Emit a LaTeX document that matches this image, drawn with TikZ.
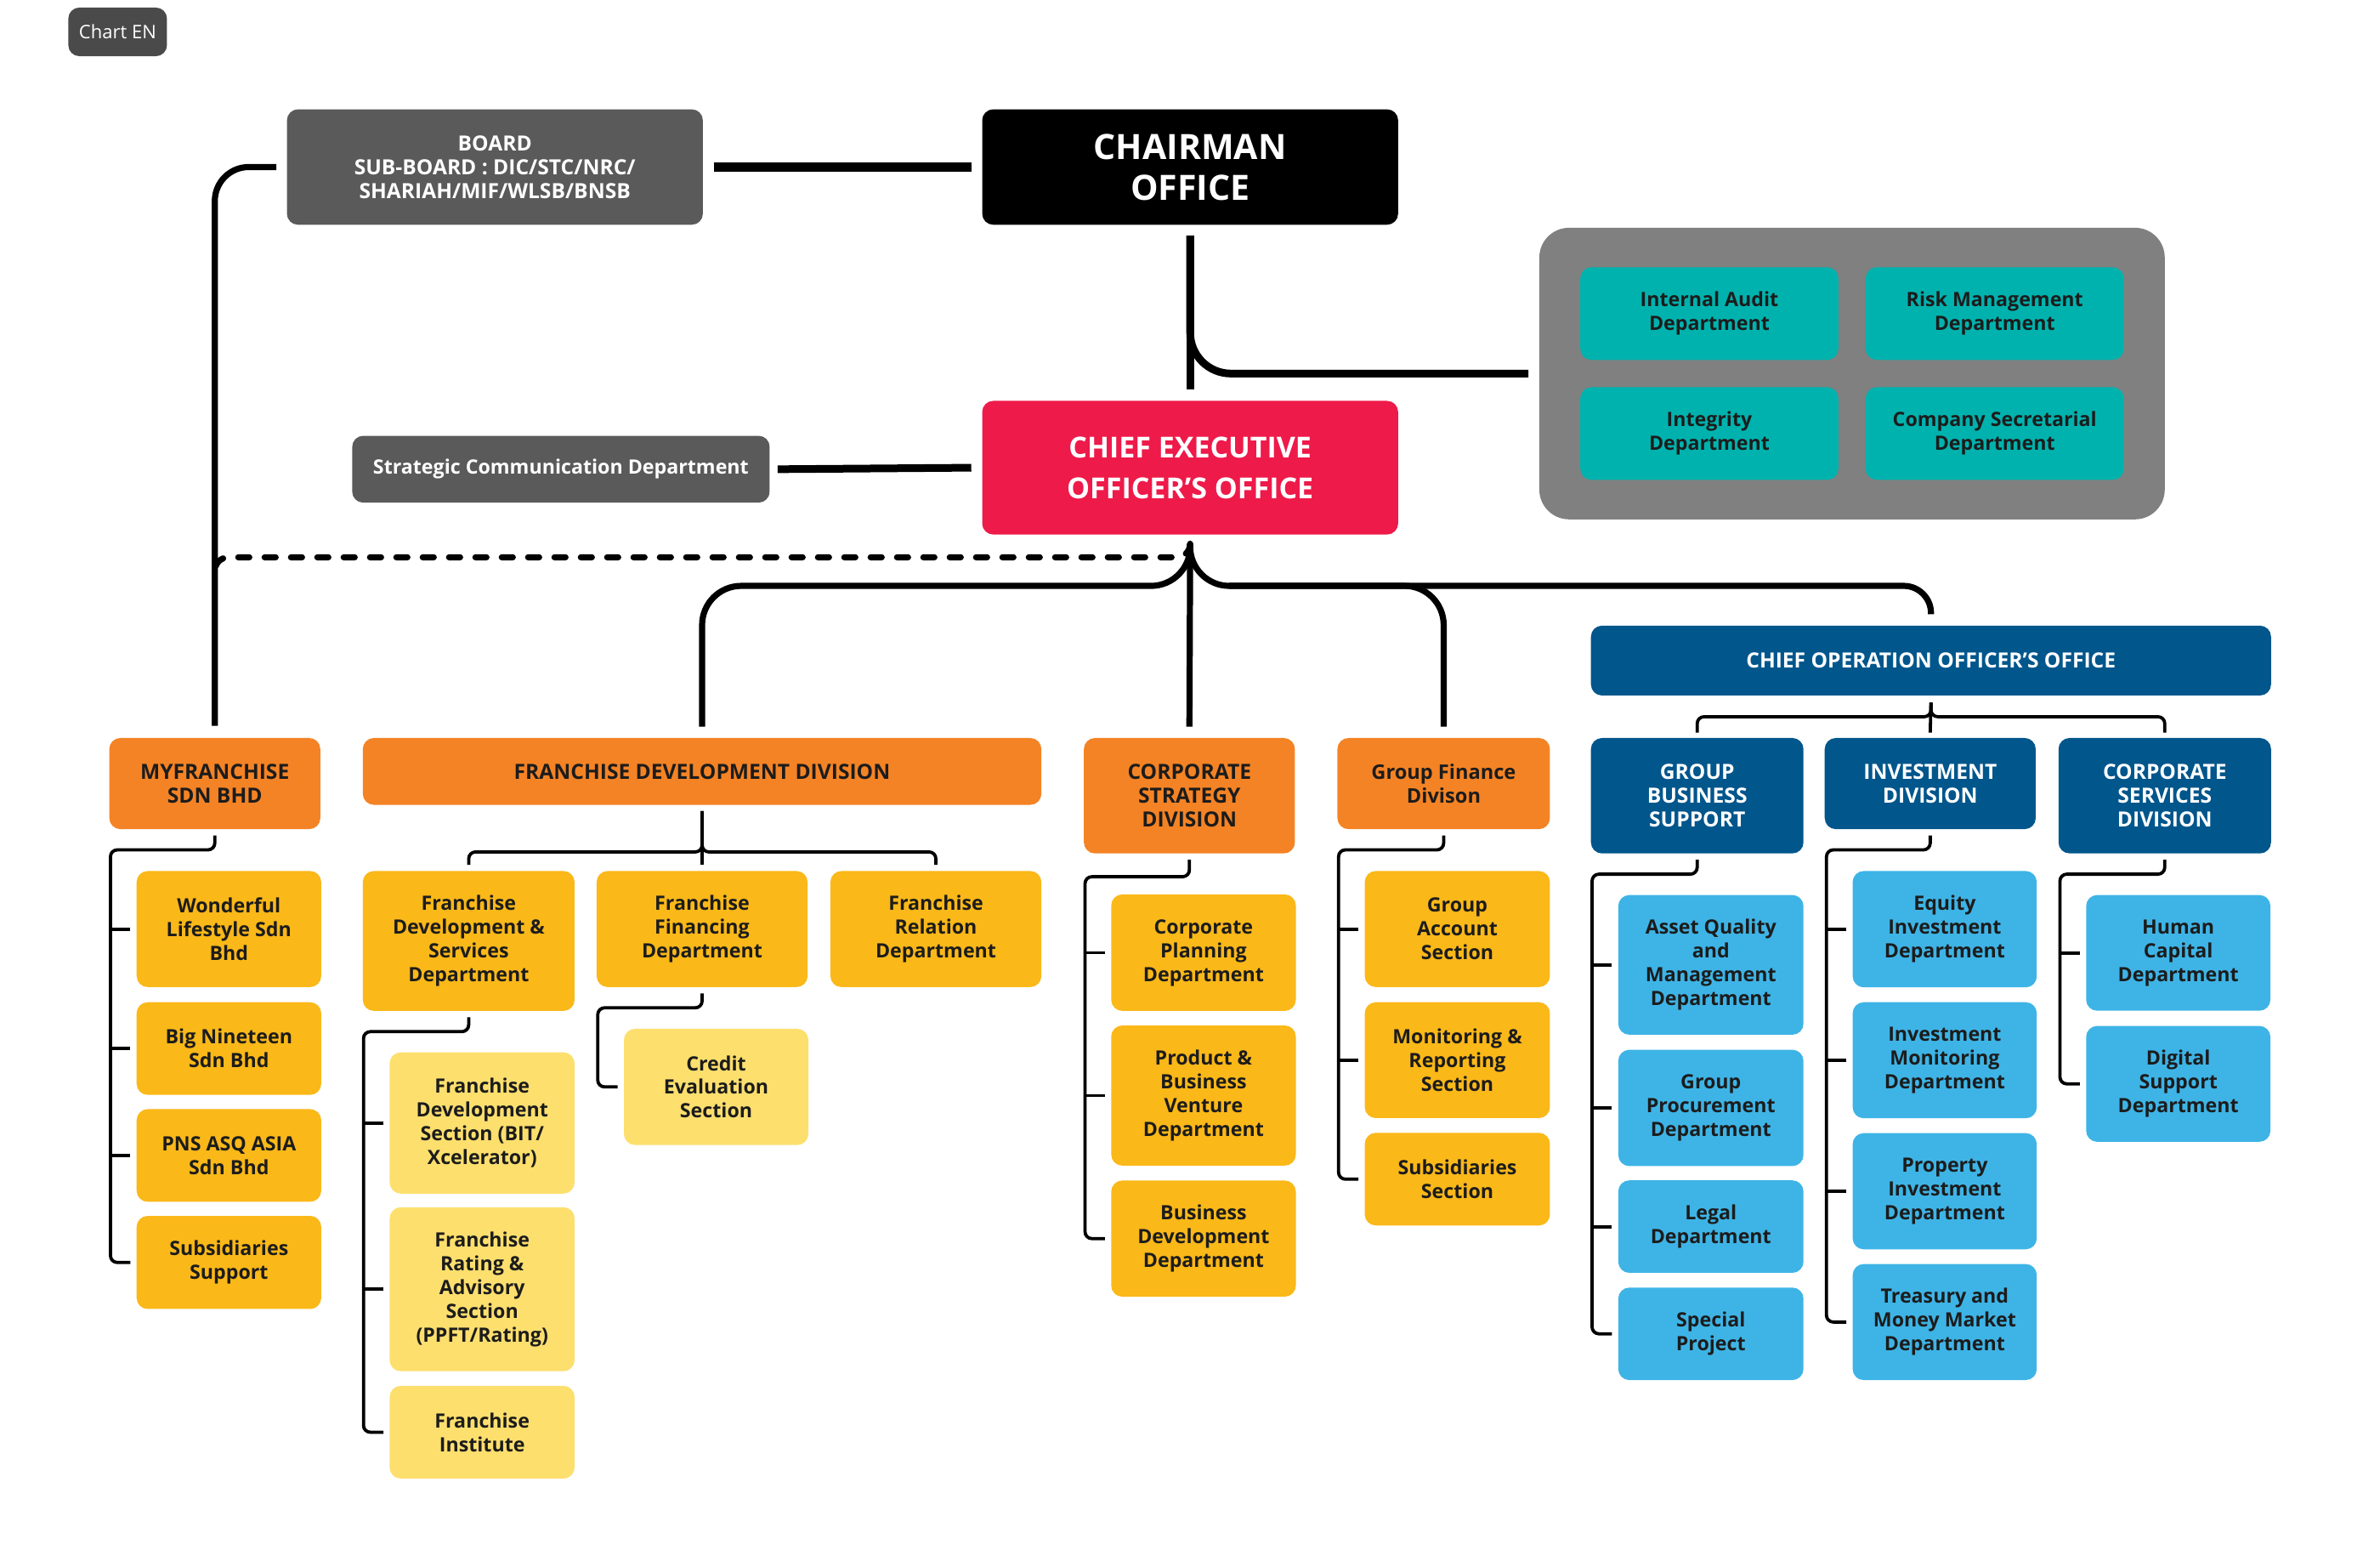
\documentclass[tikz,border=0pt]{standalone}
\usepackage{fontspec}
\setmainfont{Open Sans}
\usepackage{tikz}
\definecolor{ink}{HTML}{1C1C1C}
\definecolor{chartgray}{HTML}{4A4A4A}
\definecolor{boardgray}{HTML}{5A5A5A}
\definecolor{panelgray}{HTML}{808080}
\definecolor{ceored}{HTML}{EE1A4A}
\definecolor{teal}{HTML}{00B2AE}
\definecolor{divorange}{HTML}{F48325}
\definecolor{deptyellow}{HTML}{FAB819}
\definecolor{secyellow}{HTML}{FDDF6E}
\definecolor{navy}{HTML}{01568C}
\definecolor{skyblue}{HTML}{3EB4E6}
% box from corner (x1,y1) to corner (x2,y2), in picture units
\newcommand{\orgbox}[7]{%
  \node[#1, minimum width={(#5-#3)*0.893pt}, minimum height={(#6-#4)*0.893pt}]
    (#2) at ({(#3+#5)/2},{(#4+#6)/2}) {#7};}

\begin{document}
\begin{tikzpicture}[
    x=0.893pt, y=-0.893pt,
    box/.style={rounded corners=6.5pt, align=center, inner sep=0pt,
      font=\fontsize{11.6}{14}\selectfont\bfseries, text=ink},
    caps/.style={font=\fontsize{12.3}{14}\selectfont\bfseries},
    darkbox/.style={box, fill=boardgray, text=white},
    orangebox/.style={box, fill=divorange},
    deptbox/.style={box, fill=deptyellow},
    secbox/.style={box, fill=secyellow},
    tealbox/.style={box, fill=teal},
    navybox/.style={box, caps, fill=navy, text=white},
    bluebox/.style={box, fill=skyblue},
    heavy/.style={line width=5.4pt},
    thickline/.style={line width=4.5pt},
    link/.style={line width=3.6pt},
    dashline/.style={line width=3.6pt, line cap=round, dash pattern=on 6.5pt off 9pt},
    tree/.style={line width=1.9pt, rounded corners=4pt}
    ]
    \useasboundingbox (0,0) rectangle (1567.8,1024.6);

    % top of the chart
    \orgbox{box, fill=chartgray, text=white, font=\fontsize{11}{13}\selectfont}{chart}{45}{5}{110}{37}{Chart EN}
    \orgbox{darkbox, caps}{board}{189}{72}{463}{148}{BOARD\\SUB-BOARD : DIC/STC/NRC/\\SHARIAH/MIF/WLSB/BNSB}
    \orgbox{box, fill=black, text=white, font=\fontsize{20.5}{24}\selectfont\bfseries}{chair}{647}{72}{921}{148}{CHAIRMAN\\OFFICE}
    \orgbox{darkbox}{strat}{232}{287}{507}{331}{Strategic Communication Department}
    \orgbox{box, fill=ceored, text=white, font=\fontsize{17}{24}\selectfont\bfseries}{ceo}{647}{264}{921}{352}{CHIEF EXECUTIVE\\OFFICER'S OFFICE}

    % committees panel
    \orgbox{box, fill=panelgray, rounded corners=17.5pt}{panel}{1014}{150}{1426}{342}{}
    \orgbox{tealbox}{audit}{1041}{176}{1211}{237}{Internal Audit\\Department}
    \orgbox{tealbox}{risk}{1229}{176}{1399}{237}{Risk Management\\Department}
    \orgbox{tealbox}{integ}{1041}{255}{1211}{316}{Integrity\\Department}
    \orgbox{tealbox}{cosec}{1229}{255}{1399}{316}{Company Secretarial\\Department}

    % divisions
    \orgbox{navybox}{coo}{1048}{412}{1496}{458}{CHIEF OPERATION OFFICER'S OFFICE}
    \orgbox{orangebox, caps}{myf}{72}{486}{211}{546}{MYFRANCHISE\\SDN BHD}
    \orgbox{orangebox, caps}{fdd}{239}{486}{686}{530}{FRANCHISE DEVELOPMENT DIVISION}
    \orgbox{orangebox, caps}{csd}{714}{486}{853}{562}{CORPORATE\\STRATEGY\\DIVISION}
    \orgbox{orangebox, font=\fontsize{11.8}{14}\selectfont\bfseries}{gfd}{881}{486}{1021}{546}{Group Finance\\Divison}
    \orgbox{navybox}{gbs}{1048}{486}{1188}{562}{GROUP\\BUSINESS\\SUPPORT}
    \orgbox{navybox}{inv}{1202}{486}{1341}{546}{INVESTMENT\\DIVISION}
    \orgbox{navybox}{csv}{1356}{486}{1496}{562}{CORPORATE\\SERVICES\\DIVISION}

    % myfranchise
    \orgbox{deptbox}{wls}{90}{573.6}{211.6}{650}{Wonderful\\Lifestyle Sdn\\Bhd}
    \orgbox{deptbox}{bnt}{90}{660}{211.6}{721}{Big Nineteen\\Sdn Bhd}
    \orgbox{deptbox}{pns}{90}{730.4}{211.6}{791.4}{PNS ASQ ASIA\\Sdn Bhd}
    \orgbox{deptbox}{subs}{90}{800.7}{211.6}{862}{Subsidiaries\\Support}

    % franchise development
    \orgbox{deptbox}{fds}{239}{573.6}{378.5}{665.7}{Franchise\\Development \&\\Services\\Department}
    \orgbox{deptbox}{ffin}{393}{573.6}{532}{650}{Franchise\\Financing\\Department}
    \orgbox{deptbox}{frel}{547}{573.6}{686}{650}{Franchise\\Relation\\Department}
    \orgbox{secbox}{fdsec}{256.7}{693}{378.5}{786}{Franchise\\Development\\Section (BIT/\\Xcelerator)}
    \orgbox{secbox}{fra}{256.7}{795}{378.5}{903}{Franchise\\Rating \&\\Advisory\\Section\\(PPFT/Rating)}
    \orgbox{secbox}{finst}{256.7}{912.6}{378.5}{973.7}{Franchise\\Institute}
    \orgbox{secbox}{credit}{411}{677.5}{532.5}{754}{Credit\\Evaluation\\Section}

    % corporate strategy
    \orgbox{deptbox}{cpd}{732}{589}{853.6}{665.7}{Corporate\\Planning\\Department}
    \orgbox{deptbox}{pbv}{732}{675.3}{853.6}{767.6}{Product \&\\Business\\Venture\\Department}
    \orgbox{deptbox}{bdd}{732}{777.4}{853.6}{853.9}{Business\\Development\\Department}

    % group finance
    \orgbox{deptbox}{gas}{899}{573.6}{1021}{650}{Group\\Account\\Section}
    \orgbox{deptbox}{mrs}{899}{660}{1021}{736.3}{Monitoring \&\\Reporting\\Section}
    \orgbox{deptbox}{gsubs}{899}{746}{1021}{807}{Subsidiaries\\Section}

    % group business support
    \orgbox{bluebox}{aqm}{1066}{589.4}{1188}{681.4}{Asset Quality\\and\\Management\\Department}
    \orgbox{bluebox}{gpd}{1066}{691.3}{1188}{767.9}{Group\\Procurement\\Department}
    \orgbox{bluebox}{legal}{1066}{777.3}{1188}{838.2}{Legal\\Department}
    \orgbox{bluebox}{spec}{1066}{847.9}{1188}{908.8}{Special\\Project}

    % investment
    \orgbox{bluebox}{eqi}{1220.4}{573.6}{1341.7}{650.2}{Equity\\Investment\\Department}
    \orgbox{bluebox}{imd}{1220.4}{660}{1341.7}{736.4}{Investment\\Monitoring\\Department}
    \orgbox{bluebox}{pid}{1220.4}{746.2}{1341.7}{822.7}{Property\\Investment\\Department}
    \orgbox{bluebox}{tmm}{1220.4}{832.4}{1341.7}{908.8}{Treasury and\\Money Market\\Department}

    % corporate services
    \orgbox{bluebox}{hcd}{1374.2}{589.4}{1495.6}{665.6}{Human\\Capital\\Department}
    \orgbox{bluebox}{dsd}{1374.2}{675.6}{1495.6}{751.9}{Digital\\Support\\Department}

    % upper links
    \draw[heavy] ([xshift=6.2pt]board.east) -- ([xshift=-6.2pt]chair.west);
    \draw[thickline] ([xshift=4.5pt]strat.east) -- ([xshift=-6.2pt]ceo.west);
    \draw[thickline] ([yshift=-6.2pt]chair.south) -- ([yshift=6.5pt]ceo.north);
    \draw[thickline, rounded corners=24pt] ([yshift=-6.2pt]chair.south) |- ([xshift=-6.2pt]panel.west);
    \draw[link, rounded corners=20pt] ([xshift=-6pt]board.west) -| ([yshift=7pt]myf.north);

    % links under the CEO
    \coordinate (hub) at ([yshift=-5.2pt]ceo.south);
    \coordinate (bus) at ([yshift=-30pt]ceo.south);
    \draw[dashline, rounded corners=8pt] (hub) -- ([yshift=-8pt]hub) -| ([yshift=92pt]myf.north);
    \draw[link] (hub) -- ([yshift=6.5pt]csd.north);
    \draw[link, rounded corners=23pt] (hub) -- (bus) -| ([yshift=6.5pt]fdd.north);
    \draw[link, rounded corners=23pt] (hub) -- (bus) -| ([yshift=6.5pt]gfd.north);
    \draw[link, rounded corners=16pt] ([xshift=23pt]bus) -| ([yshift=6.5pt]coo.north);

    % COO branches
    \draw[tree] ([yshift=-4pt]coo.south) -- ([yshift=3pt]inv.north);
    \draw[tree] ([yshift=-4pt]coo.south) -- ([yshift=-12.3pt]coo.south) -| ([yshift=3pt]gbs.north);
    \draw[tree] ([yshift=-4pt]coo.south) -- ([yshift=-12.3pt]coo.south) -| ([yshift=3pt]csv.north);

    % franchise development branches
    \draw[tree] ([yshift=-3.5pt]fdd.south) -- ([yshift=3.5pt]ffin.north);
    \draw[tree] ([yshift=-3.5pt]fdd.south) -- ([yshift=-27.5pt]fdd.south) -| ([yshift=3.5pt]fds.north);
    \draw[tree] ([yshift=-3.5pt]fdd.south) -- ([yshift=-27.5pt]fdd.south) -| ([yshift=3.5pt]frel.north);

    % side trees
    \draw[tree] ([yshift=-3.5pt]myf.south) -- ([yshift=-12pt]myf.south) -| ([xshift=-15.2pt]subs.west) -- ([xshift=-3.5pt]subs.west);
    \draw[tree] ([xshift=-15.2pt]wls.west) -- ([xshift=-3.5pt]wls.west);
    \draw[tree] ([xshift=-15.2pt]bnt.west) -- ([xshift=-3.5pt]bnt.west);
    \draw[tree] ([xshift=-15.2pt]pns.west) -- ([xshift=-3.5pt]pns.west);

    \draw[tree] ([yshift=-3.5pt]fds.south) -- ([yshift=-12pt]fds.south) -| ([xshift=-15.2pt]finst.west) -- ([xshift=-3.5pt]finst.west);
    \draw[tree] ([xshift=-15.2pt]fdsec.west) -- ([xshift=-3.5pt]fdsec.west);
    \draw[tree] ([xshift=-15.2pt]fra.west) -- ([xshift=-3.5pt]fra.west);

    \draw[tree] ([yshift=-3.5pt]ffin.south) -- ([yshift=-12pt]ffin.south) -| ([xshift=-15.2pt]credit.west) -- ([xshift=-3.5pt]credit.west);

    \draw[tree] ([yshift=-3.5pt]csd.south) -- ([yshift=-13.5pt]csd.south) -| ([xshift=-15.2pt]bdd.west) -- ([xshift=-3.5pt]bdd.west);
    \draw[tree] ([xshift=-15.2pt]cpd.west) -- ([xshift=-3.5pt]cpd.west);
    \draw[tree] ([xshift=-15.2pt]pbv.west) -- ([xshift=-3.5pt]pbv.west);

    \draw[tree] ([yshift=-3.5pt]gfd.south) -- ([yshift=-12pt]gfd.south) -| ([xshift=-15.2pt]gsubs.west) -- ([xshift=-3.5pt]gsubs.west);
    \draw[tree] ([xshift=-15.2pt]gas.west) -- ([xshift=-3.5pt]gas.west);
    \draw[tree] ([xshift=-15.2pt]mrs.west) -- ([xshift=-3.5pt]mrs.west);

    \draw[tree] ([yshift=-3.5pt]gbs.south) -- ([yshift=-12pt]gbs.south) -| ([xshift=-15.2pt]spec.west) -- ([xshift=-3.5pt]spec.west);
    \draw[tree] ([xshift=-15.2pt]aqm.west) -- ([xshift=-3.5pt]aqm.west);
    \draw[tree] ([xshift=-15.2pt]gpd.west) -- ([xshift=-3.5pt]gpd.west);
    \draw[tree] ([xshift=-15.2pt]legal.west) -- ([xshift=-3.5pt]legal.west);

    \draw[tree] ([yshift=-3.5pt]inv.south) -- ([yshift=-12pt]inv.south) -| ([xshift=-15.2pt]tmm.west) -- ([xshift=-3.5pt]tmm.west);
    \draw[tree] ([xshift=-15.2pt]eqi.west) -- ([xshift=-3.5pt]eqi.west);
    \draw[tree] ([xshift=-15.2pt]imd.west) -- ([xshift=-3.5pt]imd.west);
    \draw[tree] ([xshift=-15.2pt]pid.west) -- ([xshift=-3.5pt]pid.west);

    \draw[tree] ([yshift=-3.5pt]csv.south) -- ([yshift=-12pt]csv.south) -| ([xshift=-15.2pt]dsd.west) -- ([xshift=-3.5pt]dsd.west);
    \draw[tree] ([xshift=-15.2pt]hcd.west) -- ([xshift=-3.5pt]hcd.west);
  \end{tikzpicture}
\end{document}
